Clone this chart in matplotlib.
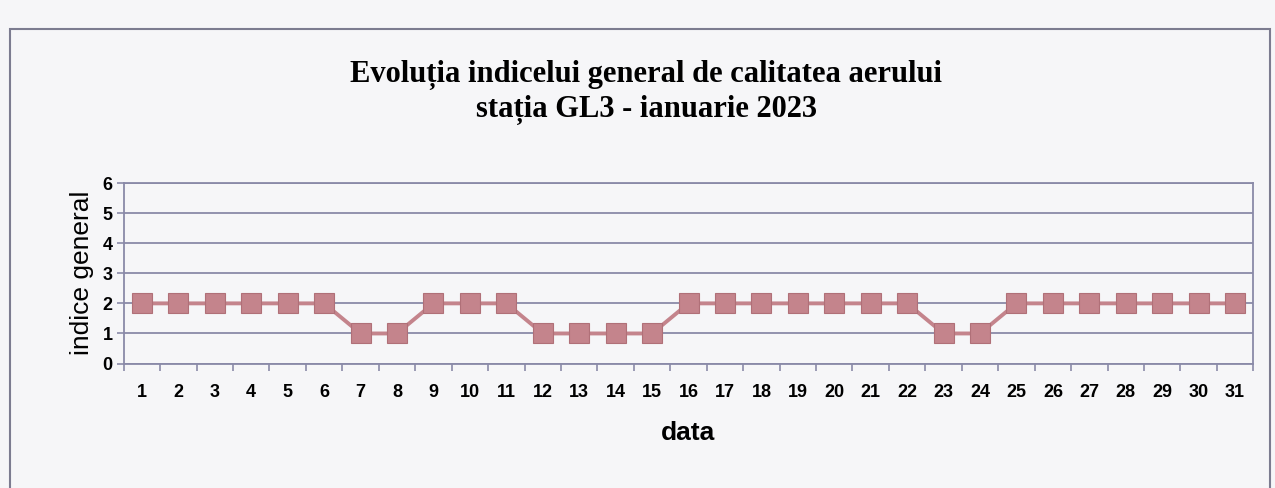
import numpy as np
import matplotlib.pyplot as plt
from matplotlib.patches import Rectangle

days = list(range(1, 32))
indice = [2, 2, 2, 2, 2, 2, 1, 1, 2, 2, 2, 1, 1, 1, 1,
          2, 2, 2, 2, 2, 2, 2, 1, 1, 2, 2, 2, 2, 2, 2, 2]
y_ticks = [0, 1, 2, 3, 4, 5, 6]

title = "Evoluția indicelui general de calitatea aerului\nstația GL3 - ianuarie 2023"
grid_color = '#8a8aa8'
line_color = '#c4848c'

fig = plt.figure(figsize=(12.75, 4.88), dpi=100)
fig.patch.set_facecolor('#f6f6f8')

# outer chart frame (bottom edge lies outside the scan)
fig.add_artist(Rectangle((0.008, -0.1), 0.988, 1.04, transform=fig.transFigure,
                         fill=False, edgecolor='#7c7c90', linewidth=1.5))

ax = fig.add_axes([0.097, 0.255, 0.886, 0.37])
ax.set_facecolor('#f6f6f8')

x = np.arange(len(days))
ax.plot(x, indice, color=line_color, linewidth=2.8, marker='s', markersize=14,
        markerfacecolor=line_color, markeredgecolor='#b07078', markeredgewidth=0.8)

ax.set_xlim(-0.5, len(days) - 0.5)
ax.set_ylim(0, 6)
ax.set_yticks(y_ticks)
ax.set_xticks(x)
ax.set_xticklabels([str(d) for d in days])
ax.set_xticks(np.arange(-0.5, len(days)), minor=True)
ax.tick_params(axis='x', which='major', length=0, pad=15)
ax.tick_params(axis='x', which='minor', length=5, color=grid_color, width=1.2)
ax.tick_params(axis='y', length=5, color=grid_color, width=1.2, pad=3)
for lbl in ax.get_xticklabels() + ax.get_yticklabels():
    lbl.set_fontweight('bold')
    lbl.set_fontsize(13)
    lbl.set_family('Liberation Sans')

ax.grid(axis='y', color=grid_color, linewidth=1.3)
ax.set_axisbelow(True)
for sp in ax.spines.values():
    sp.set_color(grid_color)
    sp.set_linewidth(1.3)

ax.set_xlabel('data', fontsize=19, fontweight='bold', family='Liberation Sans', labelpad=14)
ax.set_ylabel('indice general', fontsize=19, family='Liberation Sans', labelpad=6)

fig.text(0.507, 0.81, title, ha='center', va='center', fontsize=22,
         fontweight='bold', family='Liberation Serif', linespacing=1.25)

fig.savefig('out.png', dpi=100, facecolor=fig.get_facecolor())
